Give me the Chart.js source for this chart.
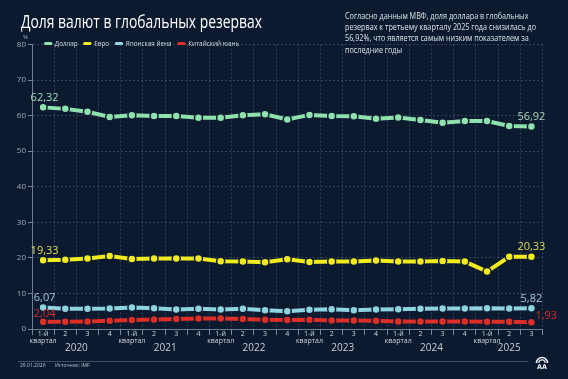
<!DOCTYPE html>
<html><head><meta charset="utf-8">
<script src="https://cdn.jsdelivr.net/npm/chart.js@4.4.1/dist/chart.umd.min.js"></script>
<style>
html,body{margin:0;padding:0;}
body{width:568px;height:379px;overflow:hidden;position:relative;background:#0b1a2f;font-family:"Open Sans","Noto Sans",sans-serif;}
#c{position:absolute;left:0;top:0;}
.title{position:absolute;left:21px;top:9px;color:#fff;font-size:18px;white-space:nowrap;transform-origin:0 0;}
.desc{position:absolute;left:345px;top:11px;color:#dde2e9;font-size:8.6px;line-height:11.2px;white-space:nowrap;transform-origin:0 0;}
.legend{position:absolute;left:44px;top:38px;display:flex;align-items:center;color:#d3d8df;font-size:7.6px;white-space:nowrap;transform-origin:0 0;}
.legend span.sw{display:inline-block;width:10px;height:3px;border-radius:2px;margin-right:3px;}
.legend span.it{display:inline-flex;align-items:center;margin-right:7px;}
.pct{position:absolute;left:23px;top:33px;color:#a3adb9;font-size:6px;}
.fline{position:absolute;left:18px;top:361px;width:510px;height:1px;background:#3b4e66;}
.foot{position:absolute;top:362px;color:#b8c0cb;font-size:5px;white-space:nowrap;}
.logo{position:absolute;left:534px;top:354px;}
</style></head>
<body>
<canvas id="c" width="568" height="379"></canvas>
<div class="title" id="title">Доля валют в глобальных резервах</div>
<div class="desc" id="desc">Согласно данным МВФ, доля доллара в глобальных<br>резервах к третьему кварталу 2025 года снизилась до<br>56,92%, что является самым низким показателем за<br>последние годы</div>
<div class="pct">%</div>
<div class="legend" id="legend"></div>
<div class="fline"></div>
<div class="foot" style="left:20px">29.01.2026</div>
<div class="foot" style="left:55px">Источник: IMF</div>
<svg class="logo" width="16" height="16" viewBox="0 0 16 16">
<path d="M2.5 9 A5.5 5.5 0 0 1 13.5 9" fill="none" stroke="#e8ecf1" stroke-width="1.6"/>
<path d="M4.8 9 A3.2 3.2 0 0 1 11.2 9" fill="none" stroke="#e8ecf1" stroke-width="1.2"/>
<text x="8" y="14.5" text-anchor="middle" fill="#e8ecf1" font-size="6.5" font-weight="bold" font-family="DejaVu Sans">AA</text>
</svg>
<script>
// ---- data ----
const quarterLabels = [
  ['1-й','квартал'],'2','3','4',
  ['1-й','квартал'],'2','3','4',
  ['1-й','квартал'],'2','3','4',
  ['1-й','квартал'],'2','3','4',
  ['1-й','квартал'],'2','3','4',
  ['1-й','квартал'],'2','3'
];
const years = ['2020','2021','2022','2023','2024','2025'];
const seriesNames = ['Доллар','Евро','Японская йена','Китайский юань'];
const dollar = [62.32,61.9,61.1,59.6,60.1,59.9,59.9,59.4,59.4,60.1,60.4,58.9,60.2,59.9,59.8,59.1,59.5,58.8,58.0,58.5,58.5,57.1,56.92];
const euro   = [19.33,19.45,19.8,20.55,19.7,19.8,19.8,19.8,19.05,18.95,18.75,19.6,18.85,18.95,18.95,19.25,18.95,18.95,19.15,18.95,16.15,20.3,20.33];
const yen    = [6.07,5.68,5.68,5.75,6.05,5.85,5.48,5.68,5.48,5.68,5.3,5.02,5.39,5.58,5.3,5.48,5.58,5.68,5.75,5.75,5.85,5.75,5.82];
const yuan   = [2.04,2.03,2.13,2.32,2.5,2.7,2.8,2.98,2.98,2.8,2.6,2.55,2.6,2.4,2.4,2.32,2.13,2.13,2.13,2.13,2.03,2.03,1.93];
const yTicks = [0,10,20,30,40,50,60,70,80];

const colors = ['#8fe2ad','#f2ec1c','#8fd5df','#dd2f28'];
const labelColors = ['#a3d9bb','#e4dd55','#a4cbd6','#d2302a'];
const bg = '#0b1a2f';

// legend
const lg = document.getElementById('legend');
seriesNames.forEach((n,i)=>{
  const it = document.createElement('span'); it.className='it';
  it.innerHTML = '<span class="sw" style="background:'+colors[i]+'"></span>'+n;
  lg.appendChild(it);
});
function fitW(id,w){
  const el=document.getElementById(id);
  const a=el.getBoundingClientRect().width;
  el.style.transform='scaleX('+(w/a)+')';
}
fitW('title',241);
fitW('desc',191);
fitW('legend',201);

const fmt = v => v.toFixed(2).replace('.',',');

const labelPlugin = {
  id:'endLabels',
  afterDatasetsDraw(chart){
    const ctx = chart.ctx;
    ctx.save();
    ctx.font = '11px "Open Sans", "Noto Sans", sans-serif';
    ctx.textBaseline = 'middle';
    chart.data.datasets.forEach((ds,di)=>{
      const meta = chart.getDatasetMeta(di);
      const n = ds.data.length;
      [0,n-1].forEach(idx=>{
        const p = meta.data[idx];
        ctx.fillStyle = labelColors[di];
        const txt = fmt(ds.data[idx]);
        if (di===3 && idx===n-1){
          ctx.textAlign='left';
          ctx.fillText(txt, p.x+4, p.y-6);
        } else {
          ctx.textAlign='center';
          ctx.fillText(txt, p.x+ (idx===0?1.5:0), p.y-(di===3?7.5:9.5));
        }
      });
    });
    ctx.restore();
  }
};

const yearPlugin = {
  id:'years',
  afterDraw(chart){
    const xs = chart.scales.x;
    const ctx = chart.ctx;
    const n = quarterLabels.length;
    ctx.save();
    ctx.font = '10px "Open Sans", "Noto Sans", sans-serif';
    ctx.fillStyle = '#c9ced6';
    ctx.textAlign='center'; ctx.textBaseline='middle';
    years.forEach((y,k)=>{
      const a = 4*k, b = Math.min(4*k+3, n-1);
      const cx = (xs.getPixelForValue(a)+xs.getPixelForValue(b))/2;
      ctx.fillText(y, cx, 348);
    });
    ctx.restore();
  }
};

const mk = (name,data,i)=>({
  label:name, data, borderColor:colors[i], backgroundColor:colors[i],
  borderWidth:4, pointRadius:4, pointBorderWidth:1.5, pointBorderColor:bg,
  pointBackgroundColor:colors[i], tension:0, order:4-i
});

new Chart(document.getElementById('c'),{
  type:'line',
  data:{labels:quarterLabels, datasets:[mk(seriesNames[0],dollar,0),mk(seriesNames[1],euro,1),mk(seriesNames[2],yen,2),mk(seriesNames[3],yuan,3)]},
  options:{
    responsive:false, animation:false, devicePixelRatio:1,
    layout:{padding:{left:0,top:44.5,right:25.5,bottom:20}},
    plugins:{legend:{display:false},tooltip:{enabled:false}},
    events:[],
    scales:{
      x:{
        type:'category', offset:true,
        grid:{offset:true, color:'rgba(150,170,195,0.28)', tickLength:6, tickColor:'#7b889a', drawOnChartArea:true},
        border:{display:true,color:'#6f7d8f',dash:[2,2]},
        ticks:{autoSkip:false,maxRotation:0,minRotation:0,color:'#d0d5dc',padding:-4,font:{size:7,lineHeight:0.95,family:'"Open Sans","Noto Sans",sans-serif'}},
        afterFit(s){s.height=30;}
      },
      y:{
        min:0,max:80,
        afterBuildTicks(s){s.ticks = yTicks.map(v=>({value:v}));},
        grid:{color:'rgba(150,170,195,0.28)', tickLength:4, tickColor:'#7b889a'},
        border:{display:true,color:'#6f7d8f',dash:[2,2]},
        ticks:{color:'#a3adb9',padding:2,font:{size:8,family:'"Open Sans","Noto Sans",sans-serif'}},
        afterFit(s){s.width=32;}
      }
    }
  },
  plugins:[labelPlugin,yearPlugin]
});
</script>
</body></html>
